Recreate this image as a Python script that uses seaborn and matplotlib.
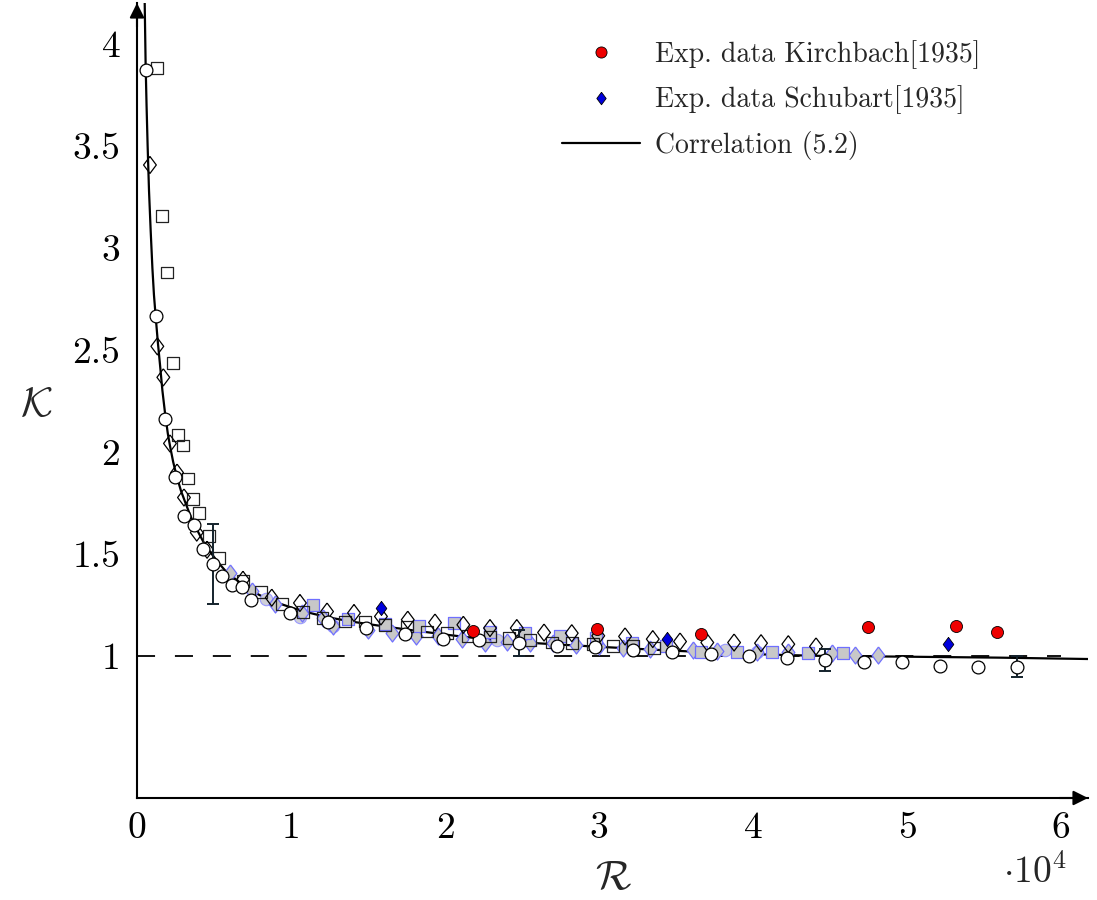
import numpy as np
import pandas as pd
import matplotlib
matplotlib.use("Agg")
import matplotlib.pyplot as plt
import seaborn as sns
from matplotlib.ticker import FixedLocator, FixedFormatter
from matplotlib.lines import Line2D

# ---------------- data (R in units of 1e4) ----------------
circ_R = [0.058, 0.121, 0.182, 0.247, 0.307, 0.370, 0.431, 0.492, 0.555, 0.617, 0.682, 0.742,
          0.994, 1.238, 1.487, 1.740, 1.989, 2.221, 2.482, 2.729, 2.976, 3.223, 3.476, 3.725,
          3.974, 4.219, 4.468, 4.721, 4.966, 5.214, 5.463, 5.712]
circ_K = [3.872, 2.664, 2.159, 1.877, 1.685, 1.641, 1.525, 1.452, 1.393, 1.349, 1.337, 1.275,
          1.209, 1.168, 1.136, 1.107, 1.083, 1.076, 1.062, 1.049, 1.043, 1.029, 1.021, 1.010,
          0.999, 0.989, 0.980, 0.972, 0.971, 0.951, 0.945, 0.947]

sq_R = [0.132, 0.164, 0.197, 0.232, 0.268, 0.301, 0.333, 0.366, 0.403, 0.469, 0.534, 0.690,
        0.807, 0.940, 1.076, 1.205, 1.351, 1.481, 1.610, 1.751, 1.881, 2.015, 2.151, 2.292,
        2.418, 2.552, 2.693, 2.823, 2.961, 3.093, 3.223, 3.357]
sq_K = [3.880, 3.154, 2.879, 2.437, 2.083, 2.031, 1.869, 1.769, 1.700, 1.587, 1.481, 1.365,
        1.313, 1.253, 1.213, 1.185, 1.168, 1.168, 1.152, 1.144, 1.119, 1.111, 1.098, 1.095,
        1.087, 1.079, 1.065, 1.064, 1.059, 1.049, 1.049, 1.038]

dia_R = [0.084, 0.132, 0.171, 0.214, 0.260, 0.305, 0.388, 0.455, 0.688, 0.875, 1.058, 1.234,
         1.409, 1.584, 1.758, 1.935, 2.119, 2.292, 2.466, 2.643, 2.823, 2.995, 3.169, 3.349,
         3.526, 3.703, 3.877, 4.052, 4.229, 4.409]
dia_K = [3.406, 2.517, 2.365, 2.041, 1.898, 1.776, 1.604, 1.520, 1.373, 1.285, 1.259, 1.217,
         1.210, 1.193, 1.177, 1.163, 1.152, 1.136, 1.136, 1.114, 1.111, 1.098, 1.095, 1.082,
         1.070, 1.065, 1.065, 1.062, 1.057, 1.046]

gsq_R = [1.141, 1.372, 1.610, 1.831, 2.060, 2.292, 2.519, 2.745, 2.981, 3.212, 3.435, 3.660,
         3.898, 4.121, 4.357, 4.586]
gsq_K = [1.251, 1.179, 1.157, 1.147, 1.161, 1.118, 1.114, 1.098, 1.087, 1.065, 1.046, 1.021,
         1.018, 1.021, 1.013, 1.013]

gdia_R = [0.604, 0.745, 0.896, 1.069, 1.210, 1.275, 1.502, 1.654, 1.812, 1.956, 2.108, 2.260,
          2.405, 2.552, 2.703, 2.851, 3.002, 3.158, 3.331, 3.608, 3.764, 4.024, 4.229, 4.511,
          4.662, 4.814]
gdia_K = [1.406, 1.316, 1.255, 1.210, 1.185, 1.144, 1.128, 1.111, 1.098, 1.095, 1.082, 1.065,
          1.070, 1.062, 1.062, 1.054, 1.046, 1.038, 1.033, 1.029, 1.026, 1.021, 1.021, 1.013,
          1.005, 1.002]

gcirc_R = [0.838, 1.058, 1.273, 2.338, 3.818, 4.026]
gcirc_K = [1.278, 1.191, 1.147, 1.079, 1.028, 1.017]

kirch_R = [2.180, 2.989, 3.660, 4.745, 5.318, 5.586]
kirch_K = [1.123, 1.131, 1.108, 1.139, 1.144, 1.118]

schub_R = [1.584, 3.444, 5.266]
schub_K = [1.234, 1.082, 1.057]

err_R = [0.492, 2.482, 4.468, 5.712]
err_K = [1.452, 1.062, 0.980, 0.947]
err_dK = [0.196, 0.065, 0.054, 0.052]

corr_R = [0.050, 0.056, 0.062, 0.069, 0.078, 0.089, 0.100, 0.110, 0.121, 0.135, 0.149, 0.165,
          0.182, 0.200, 0.214, 0.235, 0.258, 0.285, 0.312, 0.350, 0.388, 0.430, 0.474, 0.530,
          0.582, 0.650, 0.712, 0.790, 0.864, 0.950, 1.037, 1.150, 1.253, 1.400, 1.578, 1.800,
          2.013, 2.220, 2.442, 2.720, 3.006, 3.380, 3.766, 4.100, 4.416, 4.955, 5.600, 6.200]
corr_K = [4.200, 3.900, 3.700, 3.500, 3.280, 3.080, 2.900, 2.770, 2.665, 2.540, 2.430, 2.300,
          2.190, 2.090, 2.030, 1.950, 1.880, 1.810, 1.755, 1.680, 1.620, 1.560, 1.510, 1.455,
          1.410, 1.370, 1.335, 1.300, 1.272, 1.250, 1.228, 1.205, 1.187, 1.167, 1.147, 1.124,
          1.103, 1.085, 1.069, 1.056, 1.044, 1.029, 1.015, 1.006, 1.000, 0.996, 0.991, 0.984]

ref_R = [0.0, 6.0]
ref_K = [1.0, 1.0]

x_ticks = [0, 1, 2, 3, 4, 5, 6]
x_ticklabels = ["0", "1", "2", "3", "4", "5", "6"]
x_minor = [0.5, 1.5, 2.5, 3.5, 4.5, 5.5]
y_ticks = [1.0, 1.5, 2.0, 2.5, 3.0, 3.5, 4.0]
y_ticklabels = ["1", "1.5", "2", "2.5", "3", "3.5", "4"]
y_minor = [1.25, 1.75, 2.25, 2.75, 3.25, 3.75]

legend_labels = ["Exp. data Kirchbach[1935]", "Exp. data Schubart[1935]", "Correlation (5.2)"]

# ---------------- style ----------------
sns.set_theme(style="white")
plt.rcParams['font.family'] = ['cmr10', 'DejaVu Serif']
plt.rcParams['mathtext.fontset'] = 'cm'
plt.rcParams['axes.unicode_minus'] = False
plt.rcParams['axes.formatter.use_mathtext'] = True

W, H = 1097, 900
fig = plt.figure(figsize=(W / 100, H / 100), dpi=100)
ax = fig.add_axes([137 / W, 102 / H, (1088 - 137) / W, (798 - 3) / H])
ax.set_xlim(0, 6.175)
ax.set_ylim(0.303, 4.2)

diamond = [(0, 1), (0.75, 0), (0, -1), (-0.75, 0), (0, 1)]
blue_edge = '#6f6fff'

def df(r, k):
    return pd.DataFrame({"R": r, "K": k})

# reference line and correlation
sns.lineplot(data=df(ref_R, ref_K), x="R", y="K", ax=ax, color='black', lw=1.3, zorder=1)
ax.lines[-1].set_dashes([10, 11])
sns.lineplot(data=df(corr_R, corr_K), x="R", y="K", ax=ax, color='black', lw=1.6,
             sort=False, zorder=2)

# grey/blue series
sns.scatterplot(data=df(gcirc_R, gcirc_K), x="R", y="K", ax=ax, marker='o', s=80,
                color='#cfcfd8', edgecolor='#9a9aff', linewidth=0.8, zorder=3, legend=False)
sns.scatterplot(data=df(gdia_R, gdia_K), x="R", y="K", ax=ax, marker=diamond, s=150,
                color='#c8c8c8', edgecolor=blue_edge, linewidth=0.9, zorder=3, legend=False)
sns.scatterplot(data=df(gsq_R, gsq_K), x="R", y="K", ax=ax, marker='s', s=72,
                color='#c8c8c8', edgecolor=blue_edge, linewidth=0.9, zorder=3, legend=False)

# open black series
sns.scatterplot(data=df(sq_R, sq_K), x="R", y="K", ax=ax, marker='s', s=72,
                facecolor='none', edgecolor='#222222', linewidth=0.9, zorder=4, legend=False)
sns.scatterplot(data=df(dia_R, dia_K), x="R", y="K", ax=ax, marker=diamond, s=150,
                facecolor='none', edgecolor='black', linewidth=0.9, zorder=4, legend=False)
sns.scatterplot(data=df(circ_R, circ_K), x="R", y="K", ax=ax, marker='o', s=85,
                color='white', edgecolor='black', linewidth=0.9, zorder=5, legend=False)

# error bars
ax.errorbar(err_R, err_K, yerr=err_dK, fmt='none', ecolor='#14222c', elinewidth=1.4,
            capsize=4.5, capthick=1.4, zorder=4.5)

# experimental data
sns.scatterplot(data=df(kirch_R, kirch_K), x="R", y="K", ax=ax, marker='o', s=75,
                color='#ee0000', edgecolor='black', linewidth=0.6, zorder=6, legend=False)
sns.scatterplot(data=df(schub_R, schub_K), x="R", y="K", ax=ax, marker=diamond, s=105,
                color='#0000dd', edgecolor='black', linewidth=0.6, zorder=6, legend=False)

# axes / spines
for s in ['top', 'right']:
    ax.spines[s].set_visible(False)
for s in ['left', 'bottom']:
    ax.spines[s].set_linewidth(1.5)
    ax.spines[s].set_color('black')

ax.xaxis.set_major_locator(FixedLocator(x_ticks))
ax.xaxis.set_major_formatter(FixedFormatter(x_ticklabels))
ax.xaxis.set_minor_locator(FixedLocator(x_minor))
ax.yaxis.set_major_locator(FixedLocator(y_ticks))
ax.yaxis.set_major_formatter(FixedFormatter(y_ticklabels))
ax.yaxis.set_minor_locator(FixedLocator(y_minor))
ax.tick_params(which='both', direction='in', length=7, width=0.8, color='#8a8a8a',
               labelsize=27, labelcolor='black')
ax.tick_params(axis='x', which='major', pad=10)
ax.tick_params(axis='y', which='major', pad=12)
ax.set_xlabel("")
ax.set_ylabel("")

# arrows
ax.annotate('', xy=(1, 0), xytext=(0.97, 0), xycoords='axes fraction',
            arrowprops=dict(arrowstyle='-|>', color='black', lw=1.5, mutation_scale=22,
                            shrinkA=0, shrinkB=0))
ax.annotate('', xy=(0, 1.0), xytext=(0, 0.97), xycoords='axes fraction',
            arrowprops=dict(arrowstyle='-|>', color='black', lw=1.5, mutation_scale=22,
                            shrinkA=0, shrinkB=0))

# axis labels
fig.text(613 / W, 1 - 878 / H, r'$\mathcal{R}$', ha='center', va='center', fontsize=30)
fig.text(36 / W, 1 - 405 / H, r'$\mathcal{K}$', ha='center', va='center', fontsize=30)
fig.text(1035 / W, 1 - 872 / H, r'$\cdot 10^4$', ha='center', va='center', fontsize=27)

# legend
handles = [
    Line2D([], [], ls='none', marker='o', ms=8, mfc='#ee0000', mec='black', mew=0.6),
    Line2D([], [], ls='none', marker=diamond, ms=9, mfc='#0000dd', mec='black', mew=0.6),
    Line2D([], [], color='black', lw=1.6),
]
leg = ax.legend(handles, legend_labels, loc='upper left', bbox_to_anchor=(562 / W, 1 - 40 / H),
                bbox_transform=fig.transFigure, frameon=False, fontsize=20,
                handlelength=2.8, handletextpad=0.55, labelspacing=0.6, borderpad=0,
                borderaxespad=0)

fig.savefig("out.png", dpi=100)
